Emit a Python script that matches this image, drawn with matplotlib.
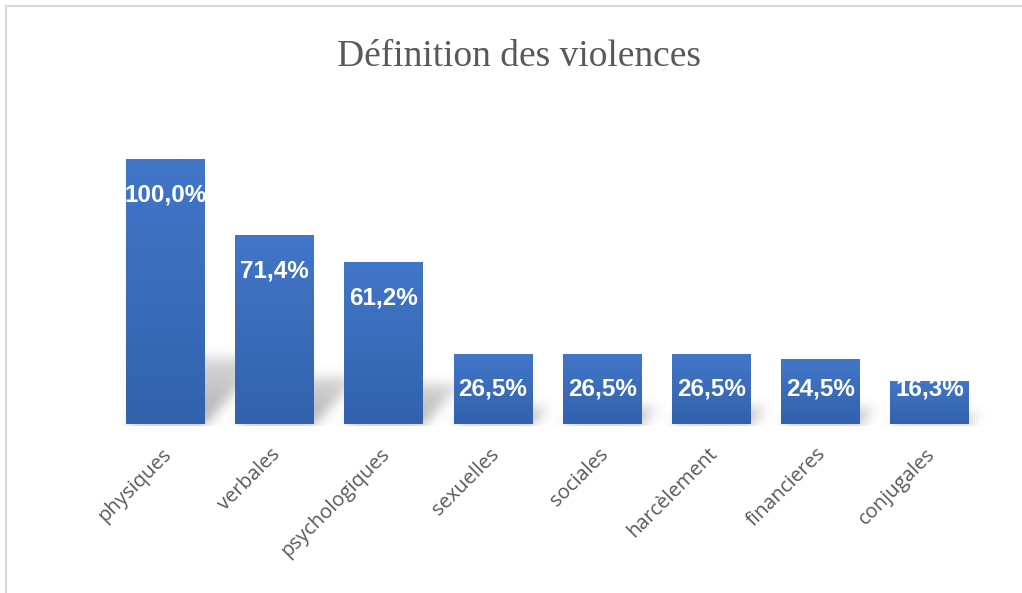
import numpy as np
import matplotlib
matplotlib.use("Agg")
import matplotlib.pyplot as plt
from matplotlib.patches import Rectangle
from matplotlib.lines import Line2D
from matplotlib.transforms import ScaledTranslation

categories = ["physiques", "verbales", "psychologiques", "sexuelles", "sociales",
              "harcèlement", "financieres", "conjugales"]
values = [100.0, 71.4, 61.2, 26.5, 26.5, 26.5, 24.5, 16.3]
labels = ["100,0%", "71,4%", "61,2%", "26,5%", "26,5%", "26,5%", "24,5%", "16,3%"]
title = "Définition des violences"

W, H = 1022, 593
fig = plt.figure(figsize=(W / 100, H / 100), dpi=100)
fig.patch.set_facecolor("white")

# border (top and left visible)
fig.add_artist(Line2D([5.5 / W, 5.5 / W], [0, 1 - 5.5 / H], transform=fig.transFigure,
                      color="#D9D9D9", lw=1.5))
fig.add_artist(Line2D([5.5 / W, 1], [1 - 5.5 / H, 1 - 5.5 / H], transform=fig.transFigure,
                      color="#D9D9D9", lw=1.5))

base_px = 424
h100 = 265
ymax = 110
ax = fig.add_axes([110.9 / W, (H - base_px) / H, 873.2 / W, h100 * ymax / 100 / H])
ax.patch.set_visible(False)
ax.set_xlim(-0.5, len(values) - 0.5)
ax.set_ylim(0, ymax)
for s in ax.spines.values():
    s.set_visible(False)
ax.set_yticks([])
x = np.arange(len(values))
ax.set_xticks(x)
ax.set_xticklabels(categories, rotation=45, ha="right", rotation_mode="anchor",
                   fontsize=14.5, color="#595959", family="Open Sans")
ax.tick_params(axis="x", length=0, pad=13)
off = ScaledTranslation(-4 / 100, -2 / 100, fig.dpi_scale_trans)
for lab in ax.get_xticklabels():
    lab.set_transform(lab.get_transform() + off)

bw = 0.72
bars = ax.bar(x, values, width=bw, color="none", zorder=3)

# shadows (perspective, blurred) computed in pixel space
fig.canvas.draw()
shadow = np.zeros((H, W))
yy, xx = np.mgrid[0:H, 0:W]
for b in bars:
    (x0, y0), (x1, y1) = ax.transData.transform([(b.get_x(), 0), (b.get_x() + b.get_width(), b.get_height())])
    py0 = H - y0
    ht = (y1 - y0)
    k = 0.25
    sh = ht * k
    skew = 0.9
    t = (py0 - yy) / max(sh, 1)
    inside = (t >= 0) & (t <= 1)
    offs = (py0 - yy) * skew
    mask = inside & (xx >= x0 + offs) & (xx <= x1 + offs)
    val = np.where(mask, 1.0 - 0.5 * t, 0)
    shadow = np.maximum(shadow, val)
sig = 6
kx = np.arange(-3 * sig, 3 * sig + 1)
ker = np.exp(-kx ** 2 / (2 * sig ** 2))
ker /= ker.sum()
shadow = np.apply_along_axis(lambda r: np.convolve(r, ker, mode="same"), 1, shadow)
shadow = np.apply_along_axis(lambda c: np.convolve(c, ker, mode="same"), 0, shadow)
shadow[base_px + 2:, :] *= 0.0
rgba = np.zeros((H, W, 4))
rgba[..., :3] = 0.55
rgba[..., 3] = np.clip(shadow * 0.7, 0, 1)
fig.figimage(rgba[::-1], xo=0, yo=0, origin="lower", zorder=-1)

# gradient fill for bars
top_c = np.array([66, 118, 200]) / 255
bot_c = np.array([50, 98, 172]) / 255
grad = np.linspace(0, 1, 256)[:, None]
gimg = (bot_c[None, None, :] * (1 - grad[..., None]) + top_c[None, None, :] * grad[..., None])
for b, v in zip(bars, values):
    im = ax.imshow(gimg, extent=[b.get_x(), b.get_x() + b.get_width(), 0, v],
                   origin="lower", aspect="auto", zorder=4)
    rect = Rectangle((b.get_x(), 0), b.get_width(), v, transform=ax.transData, facecolor="none")
    im.set_clip_path(rect)
ax.set_xlim(-0.5, len(values) - 0.5)
ax.set_ylim(0, ymax)

for xi, v, lab in zip(x, values, labels):
    ly = max(v - 13.6, 13.2)
    ax.text(xi, ly, lab, ha="center", va="center", color="white", fontsize=17.5,
            fontweight="bold", family="Liberation Sans", zorder=5)

fig.text(519 / W, 1 - 57 / H, title, ha="center", va="center", fontsize=27,
         family="Liberation Serif", color="#595959")

fig.savefig("out.png", dpi=100)
